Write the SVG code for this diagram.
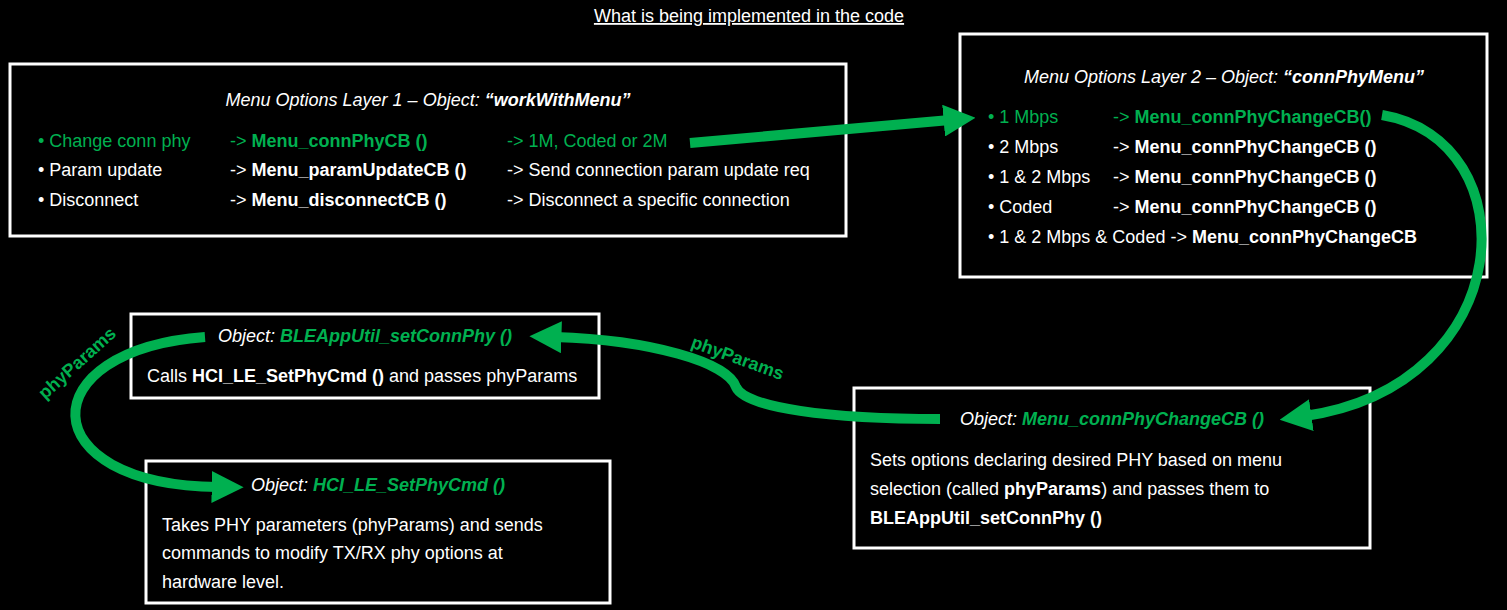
<svg xmlns="http://www.w3.org/2000/svg" width="1507" height="610" viewBox="0 0 1507 610">
<style>
text{font-family:"Liberation Sans",Arial,sans-serif;font-size:18px;fill:#fff}
.g{fill:#00b050}
.b{font-weight:bold}
.i{font-style:italic}
.box{fill:#000;stroke:#fff;stroke-width:3}
.arr{fill:none;stroke:#00b050;stroke-width:10;marker-end:url(#ah)}
.lbl{font-weight:bold;fill:#00b050;font-size:18px}
</style>
<defs>
<marker id="ah" viewBox="0 0 10 10" refX="2" refY="5" markerWidth="3.2" markerHeight="3.2" orient="auto"><path d="M0,0L10,5L0,10z" fill="#00b050"/></marker>
</defs>
<rect width="1507" height="610" fill="#000"/>
<text x="749" y="22" text-anchor="middle" text-decoration="underline">What is being implemented in the code</text>
<g id="layer1">
<rect class="box" x="10" y="64" width="836" height="172"/>
<text x="428" y="106" text-anchor="middle" class="i">Menu Options Layer 1 – Object: <tspan class="b">“workWithMenu”</tspan></text>
<text x="38" y="147" class="g">• Change conn phy</text><text x="230" y="147" class="g">-&gt; <tspan class="b">Menu_connPhyCB ()</tspan></text><text x="507" y="147" class="g">-&gt; 1M, Coded or 2M</text>
<text x="38" y="176">• Param update</text><text x="230" y="176">-&gt; <tspan class="b">Menu_paramUpdateCB ()</tspan></text><text x="507" y="176">-&gt; Send connection param update req</text>
<text x="38" y="206">• Disconnect</text><text x="230" y="206">-&gt; <tspan class="b">Menu_disconnectCB ()</tspan></text><text x="507" y="206">-&gt; Disconnect a specific connection</text>
</g>
<g id="layer2">
<rect class="box" x="960" y="34" width="527" height="243"/>
<text x="1224" y="83" text-anchor="middle" class="i">Menu Options Layer 2 – Object: <tspan class="b">“connPhyMenu”</tspan></text>
<text x="988" y="123" class="g">• 1 Mbps</text><text x="1113" y="123" class="g">-&gt; <tspan class="b">Menu_connPhyChangeCB()</tspan></text>
<text x="988" y="153">• 2 Mbps</text><text x="1113" y="153">-&gt; <tspan class="b">Menu_connPhyChangeCB ()</tspan></text>
<text x="988" y="183">• 1 &amp; 2 Mbps</text><text x="1113" y="183">-&gt; <tspan class="b">Menu_connPhyChangeCB ()</tspan></text>
<text x="988" y="213">• Coded</text><text x="1113" y="213">-&gt; <tspan class="b">Menu_connPhyChangeCB ()</tspan></text>
<text x="988" y="243">• 1 &amp; 2 Mbps &amp; Coded -&gt; <tspan class="b">Menu_connPhyChangeCB</tspan></text>
</g>
<g id="setConnPhy">
<rect class="box" x="131" y="314" width="468" height="84"/>
<text x="365" y="342" text-anchor="middle" class="i">Object: <tspan class="b g">BLEAppUtil_setConnPhy ()</tspan></text>
<text x="147" y="382">Calls <tspan class="b">HCI_LE_SetPhyCmd ()</tspan> and passes phyParams</text>
</g>
<g id="hciSetPhy">
<rect class="box" x="146" y="461" width="464" height="142"/>
<text x="378" y="491" text-anchor="middle" class="i">Object: <tspan class="b g">HCI_LE_SetPhyCmd ()</tspan></text>
<text x="162" y="531">Takes PHY parameters (phyParams) and sends</text>
<text x="162" y="559">commands to modify TX/RX phy options at</text>
<text x="162" y="588">hardware level.</text>
</g>
<g id="connPhyChange">
<rect class="box" x="854" y="388" width="516" height="160"/>
<text x="1112" y="425" text-anchor="middle" class="i">Object: <tspan class="b g">Menu_connPhyChangeCB ()</tspan></text>
<text x="870" y="466">Sets options declaring desired PHY based on menu</text>
<text x="870" y="495">selection (called <tspan class="b">phyParams</tspan>) and passes them to</text>
<text x="870" y="524" class="b">BLEAppUtil_setConnPhy ()</text>
</g>
<g id="connectors">
<path class="arr" d="M690,143 L950,120"/>
<path class="arr" d="M1382,115 C1530,140 1520,385 1305,416"/>
<path class="arr" d="M940,419 C830,419 745,408 736,387 C728,362 650,340 555,337"/>
<path class="arr" d="M205,337 C30,350 30,485 218,487"/>
<text class="lbl" transform="translate(690,347) rotate(20)">phyParams</text>
<text class="lbl" transform="translate(45,400) rotate(-42)">phyParams</text>
</g>
</svg>
